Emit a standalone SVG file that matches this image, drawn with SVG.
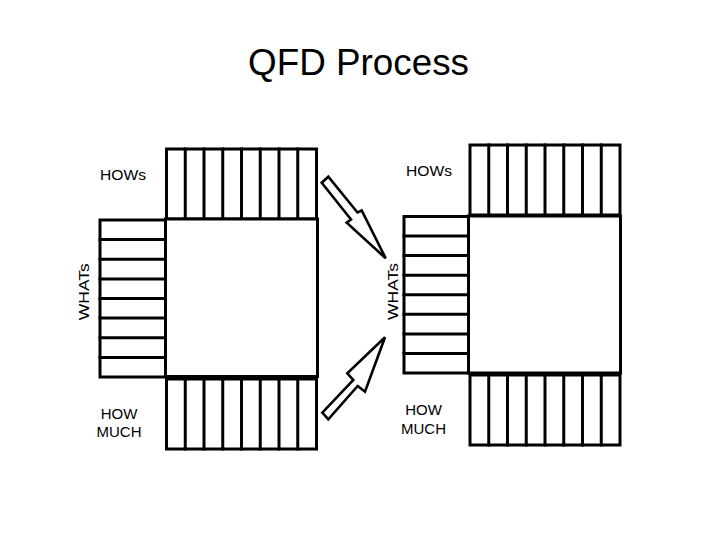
<svg xmlns="http://www.w3.org/2000/svg" width="720" height="540" viewBox="0 0 720 540">
<style>
.ln{fill:none;stroke:#000;stroke-width:3;stroke-linecap:square}
.bx{fill:#fff;stroke:#000;stroke-width:3}
.ar{fill:#fff;stroke:#000;stroke-width:2.6;stroke-linejoin:miter}
.lb{font-family:"Liberation Sans",Arial,sans-serif;font-size:15px;fill:#000}
.tt{font-family:"Liberation Sans",Arial,sans-serif;font-size:37px;fill:#000}
</style>
<rect width="720" height="540" fill="#fff"/>
<text class="tt" x="358.5" y="75" text-anchor="middle" textLength="221" lengthAdjust="spacingAndGlyphs">QFD Process</text>

<g id="left-matrix">
  <g id="left-hows">
    <rect class="bx" x="166.5" y="149" width="150" height="70"/>
    <path class="ln" d="M185.25 149V219M204 149V219M222.75 149V219M241.5 149V219M260.25 149V219M279 149V219M297.75 149V219"/>
  </g>
  <g id="left-whats">
    <rect class="bx" x="100" y="220" width="65.5" height="157"/>
    <path class="ln" d="M100 239.6H165.5M100 259.25H165.5M100 278.9H165.5M100 298.5H165.5M100 318.1H165.5M100 337.75H165.5M100 357.4H165.5"/>
  </g>
  <rect id="left-body" class="bx" x="165.5" y="219" width="152" height="157.5"/>
  <g id="left-howmuch">
    <rect class="bx" x="166.5" y="379" width="150" height="70"/>
    <path class="ln" d="M185.25 379V449M204 379V449M222.75 379V449M241.5 379V449M260.25 379V449M279 379V449M297.75 379V449"/>
  </g>
  <text class="lb" x="123" y="180" text-anchor="middle" textLength="46" lengthAdjust="spacingAndGlyphs">HOWs</text>
  <text class="lb" transform="translate(88.5 291.7) rotate(-90)" text-anchor="middle" textLength="57" lengthAdjust="spacingAndGlyphs">WHATs</text>
  <text class="lb" x="119" y="419" text-anchor="middle">HOW</text>
  <text class="lb" x="119" y="437" text-anchor="middle">MUCH</text>
</g>

<g id="right-matrix">
  <g id="right-hows">
    <rect class="bx" x="470" y="145" width="150" height="70"/>
    <path class="ln" d="M488.75 145V215M507.5 145V215M526.25 145V215M545 145V215M563.75 145V215M582.5 145V215M601.25 145V215"/>
  </g>
  <g id="right-whats">
    <rect class="bx" x="404" y="216.5" width="64.5" height="156.5"/>
    <path class="ln" d="M404 236.1H468.5M404 255.6H468.5M404 275.2H468.5M404 294.75H468.5M404 314.3H468.5M404 333.9H468.5M404 353.4H468.5"/>
  </g>
  <rect id="right-body" class="bx" x="468.5" y="216" width="152" height="157"/>
  <g id="right-howmuch">
    <rect class="bx" x="470" y="375" width="150" height="70"/>
    <path class="ln" d="M488.75 375V445M507.5 375V445M526.25 375V445M545 375V445M563.75 375V445M582.5 375V445M601.25 375V445"/>
  </g>
  <text class="lb" x="429" y="176" text-anchor="middle" textLength="46" lengthAdjust="spacingAndGlyphs">HOWs</text>
  <text class="lb" transform="translate(397.5 291.5) rotate(-90)" text-anchor="middle" textLength="57" lengthAdjust="spacingAndGlyphs">WHATs</text>
  <text class="lb" x="423.5" y="415" text-anchor="middle">HOW</text>
  <text class="lb" x="423.5" y="434" text-anchor="middle">MUCH</text>
</g>

<g id="connectors">
  <polygon class="ar" points="321.7,182.7 328.3,176.7 357.5,212.5 361.7,210.5 385.7,258.3 346.7,222.7 351,219.5"/>
  <polygon class="ar" points="322.3,412.7 328.3,419.3 357.7,386 365,391.7 385,337.3 347.3,373.3 353.3,380"/>
</g>
</svg>
